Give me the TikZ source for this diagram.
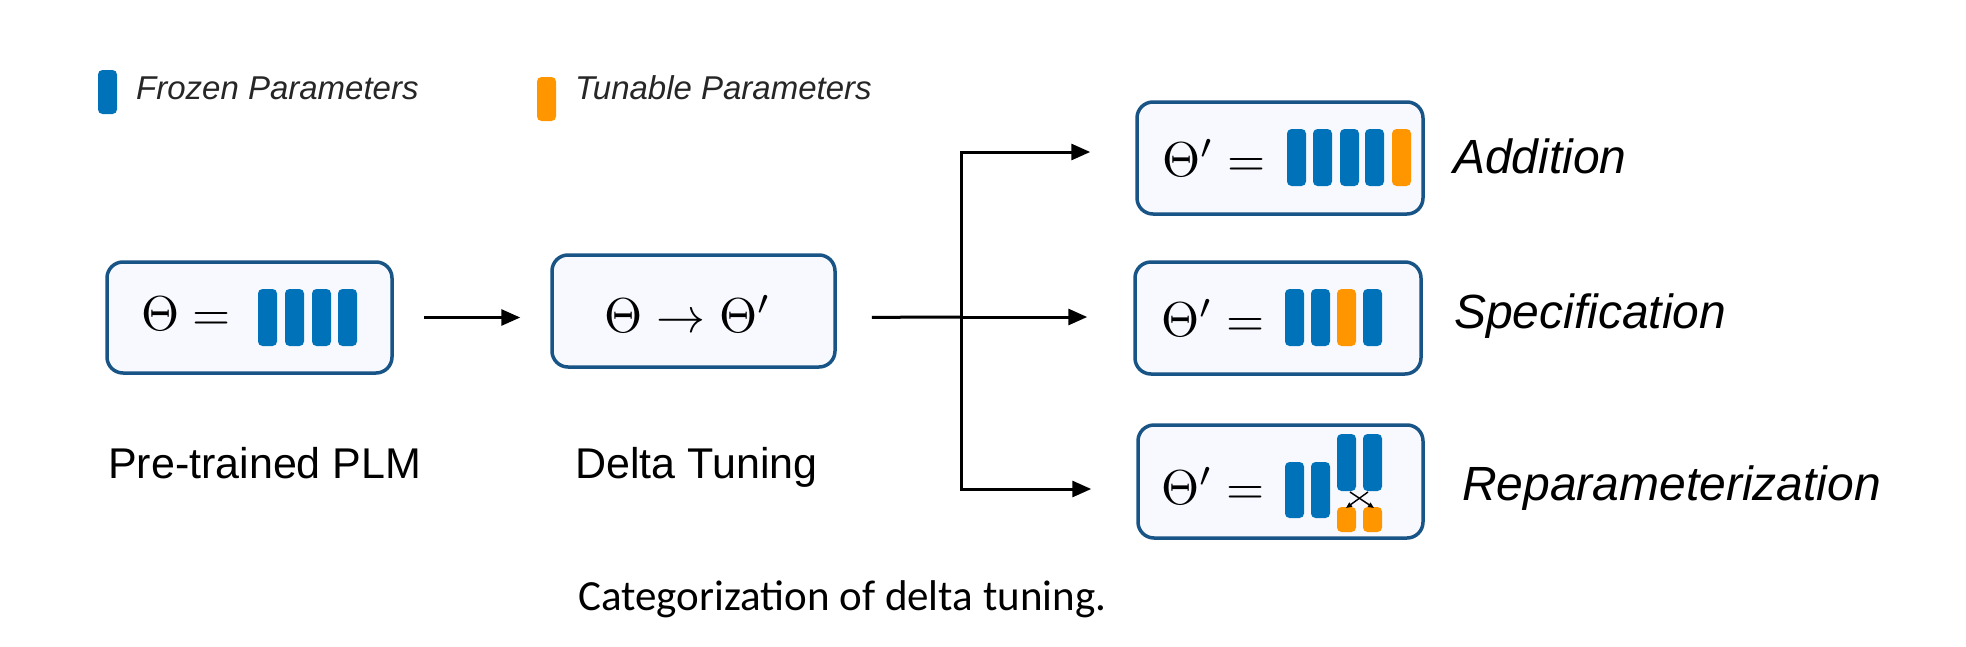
\documentclass[tikz,border=0pt]{standalone}
\usepackage{graphicx}
\usepackage{fontspec}
\newfontfamily\labfont{Liberation Sans}
\newfontfamily\capfont{Carlito}
\usetikzlibrary{arrows.meta}
\definecolor{frozen}{RGB}{0,114,186}
\definecolor{tunable}{RGB}{255,150,0}
\definecolor{boxline}{RGB}{24,84,134}
\definecolor{boxfill}{RGB}{248,249,254}
\tikzset{
  pbox/.style={draw=boxline, line width=3.5pt, fill=boxfill, rounded corners=16pt, inner sep=0pt},
  mathtxt/.style={inner sep=0pt},
  lab/.style={inner sep=0pt, anchor=base west, font=\labfont\itshape\fontsize{48}{58}\selectfont},
  sublab/.style={inner sep=0pt, anchor=base west, font=\labfont\fontsize{43}{52}\selectfont},
  legtxt/.style={inner sep=0pt, anchor=west, font=\labfont\itshape\fontsize{33}{40}\selectfont, text=black!85},
  ln/.style={line width=3pt, black},
  arr/.style={ln, -{Triangle[length=19pt,width=16pt]}},
  fz/.style={fill=frozen, rounded corners=4.5pt},
  tn/.style={fill=tunable, rounded corners=4.5pt}
}
\newcommand\pbar[4]{\path[#1] (#2,#3) rectangle ++(19,#4);}
\newcommand\mybigmath[1]{\scalebox{4.9}{$#1$}}
\begin{document}
\begin{tikzpicture}[x=1pt,y=-1pt]
\useasboundingbox (0,0) rectangle (1966,646);
% legend
\pbar{fz}{98}{70}{44}
\node[legtxt] (lf) at (136,88) {Frozen Parameters};
\pbar{tn}{537}{77}{44}
\node[legtxt] (lt) at (575,88) {Tunable Parameters};
% boxes
\node[pbox, minimum width=285pt, minimum height=111pt] (b1) at (249.5,317.5) {};
\node[pbox, minimum width=283pt, minimum height=112pt] (b2) at (693.5,311) {};
\node[pbox, minimum width=286pt, minimum height=112pt] (ba) at (1280,158) {};
\node[pbox, minimum width=286pt, minimum height=112pt] (bs) at (1278,318) {};
\node[pbox, minimum width=285pt, minimum height=113pt] (br) at (1280.5,481.5) {};
% box contents
\node[mathtxt] (m1) at (186,314) {\mybigmath{\Theta =}};
\foreach \x in {258,285,312,338} {\pbar{fz}{\x}{289}{57}}
\node[mathtxt] (m2) at (688,314) {\mybigmath{\Theta \rightarrow \Theta'}};
\node[mathtxt] (ma) at (1214,158) {\mybigmath{\Theta' =}};
\foreach \x in {1287,1313,1340,1365} {\pbar{fz}{\x}{129}{57}}
\pbar{tn}{1392}{129}{57}
\node[mathtxt] (ms) at (1213,318) {\mybigmath{\Theta' =}};
\foreach \x in {1285,1311,1363} {\pbar{fz}{\x}{289}{57}}
\pbar{tn}{1337}{289}{57}
\node[mathtxt] (mr) at (1213,486) {\mybigmath{\Theta' =}};
\foreach \x in {1285,1311} {\pbar{fz}{\x}{462}{56}}
\foreach \x in {1337,1363} {\pbar{fz}{\x}{434}{57}}
\path[tn] (1337,507) rectangle ++(19,25);
\path[tn] (1363,507) rectangle ++(19,25);
\coordinate (x1) at (1350,492);
\coordinate (x2) at (1374,508);
\coordinate (x3) at (1368,492);
\coordinate (x4) at (1346,508);
\draw[line width=1.4pt, -{Triangle[length=6pt,width=5pt]}] (x1) -- (x2);
\draw[line width=1.4pt, -{Triangle[length=6pt,width=5pt]}] (x3) -- (x4);
% connectors
\draw[arr, shorten <=30pt, shorten >=30pt] (b1.east) -- (b1.east -| b2.west);
\coordinate (split) at (961,317);
\coordinate (ta) at (961,152);
\coordinate (tr) at (961,489);
\draw[ln, shorten <=35pt] (b1.east -| b2.east) -- (split);
\draw[ln, line cap=rect] (ta) -- (tr);
\draw[arr, shorten >=45pt] (ta) -- (ta -| ba.west);
\draw[arr, shorten >=46pt] (split) -- (split -| bs.west);
\draw[arr, shorten >=45pt] (tr) -- (tr -| br.west);
% labels
\node[lab] (la) at (1453,173) {Addition};
\node[lab] (ls) at (1454,328) {Specification};
\node[lab] (lr) at (1462,500) {Reparameterization};
\node[sublab] (lp) at (108,478) {Pre-trained PLM};
\node[sublab] (ld) at (575,478) {Delta Tuning};
\node[inner sep=0pt, anchor=base west, font=\capfont\fontsize{43}{52}\selectfont] (cap) at (578,610) {Categorization of delta tuning.};
\end{tikzpicture}
\end{document}
